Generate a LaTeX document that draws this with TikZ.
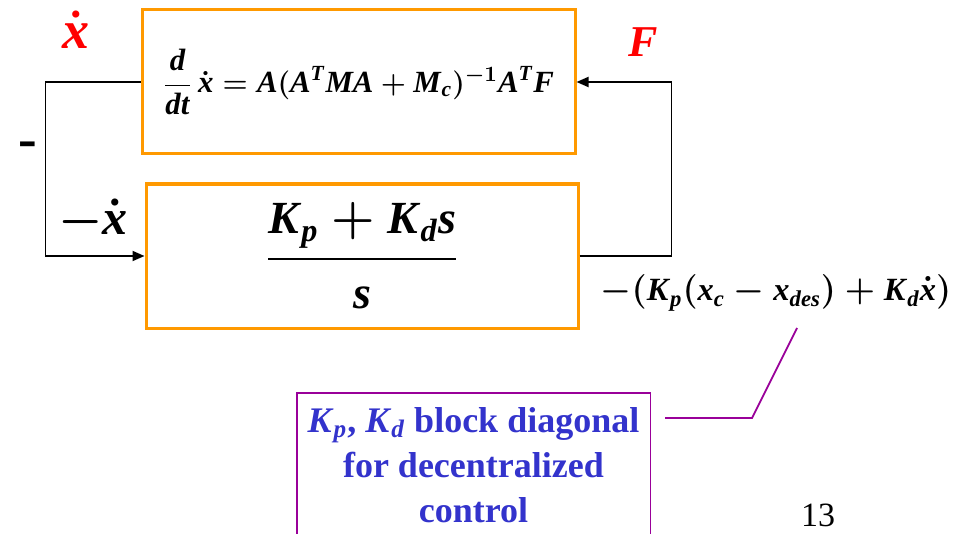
\documentclass[tikz,border=0pt]{standalone}
\usepackage{amsmath}
\usepackage{fontspec}
\setmainfont{Liberation Serif}
\usepackage{tikz}
\usetikzlibrary{arrows.meta,positioning}
\definecolor{boxorange}{RGB}{255,153,0}
\definecolor{notepurple}{RGB}{153,0,153}
\definecolor{noteblue}{RGB}{51,51,204}
\newcommand{\bim}[1]{\textbf{\textit{#1}}}
\newcommand{\bmtext}[2]{{\fontsize{#1}{1.25\dimexpr#1pt\relax}\selectfont\boldmath #2}}
\newcommand{\planteq}{$\dfrac{\bim{d}}{\bim{dt}}\,\dot{\bim{x}} = \bim{A}(\bim{A}^{\bim{T}}\bim{MA}+\bim{M}_{\bim{c}})^{-1}\bim{A}^{\bim{T}}\bim{F}$}
\newcommand{\ctrleq}{$\dfrac{\bim{K}_{\bim{p}}+\bim{K}_{\bim{d}}\bim{s}}{\bim{s}}$}
\newcommand{\outeq}{$-(\bim{K}_{\bim{p}}(\bim{x}_{\bim{c}}-\bim{x}_{\bim{des}})+\bim{K}_{\bim{d}}\dot{\bim{x}})$}

\begin{document}
\begin{tikzpicture}[>={Triangle[length=6pt,width=5pt]}, x=0.5pt, y=-0.5pt,
  orangebox/.style={draw=boxorange, line width=1.5pt, inner sep=0pt},
  callout/.style={draw=notepurple, line width=0.9pt},
  wire/.style={line width=0.9pt}]
  \useasboundingbox (0,0) rectangle (956,534);

  % ===================== blocks =====================
  \node[orangebox, minimum width=216.5pt, minimum height=72pt] (plant) at (358.5,82) {\bmtext{15.4}{\planteq}};
  \node[orangebox, minimum width=216pt, minimum height=72pt] (ctrl) at (362,256) {\bmtext{23}{\ctrleq}};

  % ===================== signal labels =====================
  \node[text=red] (xdot) at (76,30) {\bmtext{27}{$\dot{\bim{x}}$}};
  \node[text=red] (force) at (643,42) {\bmtext{22}{$\bim{F}$}};
  \node (minus) at (28,150) {\bmtext{28}{\bfseries -}};
  \node (negxdot) at (93,220) {\bmtext{25}{$-\dot{\bim{x}}$}};
  \node (outlabel) at (776,293) {\bmtext{16.2}{\outeq}};

  % ===================== connectors =====================
  \draw[wire,->] (plant.west) -- ++(-95,0) |- (ctrl.west);
  \draw[wire,->] (ctrl.east) -- ++(92,0) |- (plant.east);

  % ===================== note =====================
  \node[text=noteblue, minimum width=176.5pt, inner sep=2pt, anchor=north, align=center,
    font=\fontsize{18}{22.5}\selectfont\bfseries] (note) at (473.5,403)
    {\bim{K}$_{\bim{p}}$, \bim{K}$_{\bim{d}}$ block diagonal\\for decentralized\\control};
  \draw[callout] ([yshift=-30pt]note.south west) -- ([yshift=5pt]note.north west) -- ([yshift=5pt]note.north east) -- ([yshift=-30pt]note.south east);
  \coordinate (calloutstart) at (665,418);
  \coordinate (calloutbend) at (752,418);
  \coordinate (callouttip) at (797,328);
  \draw[callout] (calloutstart) -- (calloutbend) -- (callouttip);

  \node (pagenum) at (818,515) {\fontsize{17}{20}\selectfont 13};
\end{tikzpicture}
\end{document}
